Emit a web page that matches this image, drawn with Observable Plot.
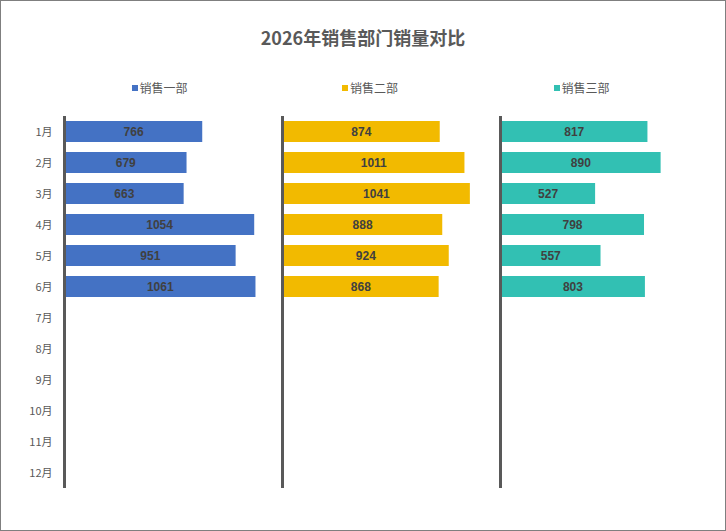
<!DOCTYPE html>
<html>
<head>
<meta charset="utf-8">
<script src="https://cdn.jsdelivr.net/npm/d3@7"></script>
<script src="https://cdn.jsdelivr.net/npm/@observablehq/plot@0.6"></script>
<style>
  html, body { margin: 0; padding: 0; background: #fff; }
  #wrap { position: relative; width: 726px; height: 531px; box-shadow: inset 0 0 0 1px #7f7f7f; overflow: hidden; font-family: "Noto Sans CJK SC", "Noto Sans", sans-serif; }
  #title { position: absolute; left: 0; width: 726px; top: 24px; text-align: center; font-size: 18px; font-weight: bold; color: #595959; line-height: 26px; }
  .leg { position: absolute; top: 80px; height: 16px; line-height: 16px; font-size: 12px; color: #595959; transform: translateX(-50%); white-space: nowrap; display: flex; align-items: center; }
  .leg i { display: inline-block; width: 6px; height: 6px; margin-right: 2px; }
  #chart { position: absolute; left: 0; top: 60px; }
</style>
</head>
<body>
<div id="wrap">
  <div id="title">2026年销售部门销量对比</div>
  <div id="legend"></div>
  <div id="chart"></div>
</div>
<script>
const months = ["1月","2月","3月","4月","5月","6月","7月","8月","9月","10月","11月","12月"];
const series = ["销售一部","销售二部","销售三部"];
const colors = ["#4472C4","#F2BA00","#32C0B3"];
const dept1 = [766, 679, 663, 1054, 951, 1061];
const dept2 = [874, 1011, 1041, 888, 924, 868];
const dept3 = [817, 890, 527, 798, 557, 803];
const legendCenters = [159.5, 370, 581.5];

const values = [dept1, dept2, dept3];
const data = [];
series.forEach((s, i) => values[i].forEach((v, j) => data.push({series: s, month: months[j], value: v})));

const legend = document.getElementById("legend");
series.forEach((s, i) => {
  const d = document.createElement("div");
  d.className = "leg";
  d.style.left = legendCenters[i] + "px";
  d.innerHTML = `<i style="background:${colors[i]}"></i>${s}`;
  legend.appendChild(d);
});

const chart = Plot.plot({
  width: 726,
  height: 470,
  marginTop: 56,
  marginBottom: 42,
  marginLeft: 63.5,
  marginRight: 8.5,
  style: {fontFamily: "'Noto Sans CJK SC', 'Noto Sans', sans-serif", background: "transparent"},
  fx: {domain: series, padding: 0, axis: null},
  x: {domain: [0, 1208], axis: null},
  y: {domain: months, paddingInner: 0.32, paddingOuter: 0.16, label: null},
  color: {domain: series, range: colors},
  marks: [
    Plot.barX(data, {fx: "series", y: "month", x: "value", fill: "series"}),
    Plot.text(data, {fx: "series", y: "month", x: d => d.value / 2, text: d => String(d.value),
      fill: "#404040", fontWeight: "bold", fontSize: 12, fontFamily: "'Liberation Sans', sans-serif"}),
    Plot.ruleX([0], {stroke: "#595959", strokeWidth: 3}),
    Plot.axisY({tickSize: 0, tickPadding: 12, fontSize: 11, color: "#595959", label: null, facetAnchor: "left"})
  ]
});
document.getElementById("chart").appendChild(chart);
</script>
</body>
</html>
